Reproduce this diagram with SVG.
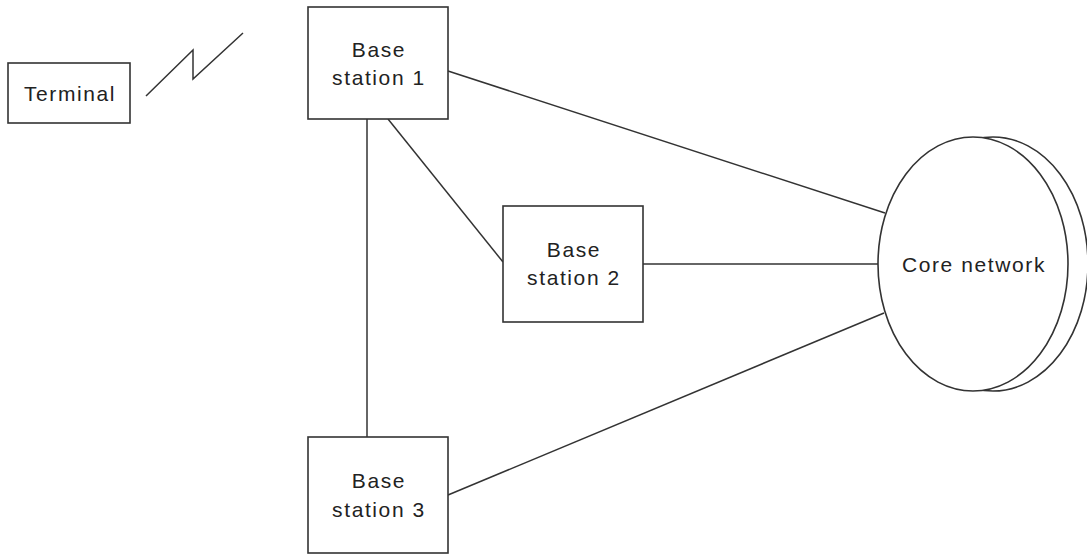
<svg xmlns="http://www.w3.org/2000/svg" width="1087" height="554" viewBox="0 0 1087 554">
<style>
.box{fill:#fff;stroke:#333;stroke-width:1.6}
.ln{fill:none;stroke:#333;stroke-width:1.5}
.t{font-family:"Liberation Sans",Arial,sans-serif;font-size:21px;fill:#222;text-anchor:middle;letter-spacing:1.6px}
</style>
<rect width="1087" height="554" fill="#fff"/>
<g id="connectors">
<polyline class="ln" points="146,96 193,50 193,79 243,33"/>
<line class="ln" x1="448" y1="71" x2="885" y2="213"/>
<line class="ln" x1="388" y1="119" x2="503" y2="262"/>
<line class="ln" x1="367" y1="119" x2="367" y2="437"/>
<line class="ln" x1="643" y1="264" x2="878" y2="264"/>
<line class="ln" x1="448" y1="495" x2="884" y2="313"/>
</g>
<g id="terminal">
<rect class="box" x="8" y="63" width="122" height="60"/>
<text class="t" x="70" y="101">Terminal</text>
</g>
<g id="bs1">
<rect class="box" x="308" y="7" width="140" height="112"/>
<text class="t" x="379" y="57">Base</text>
<text class="t" x="379" y="85">station 1</text>
</g>
<g id="bs2">
<rect class="box" x="503" y="206" width="140" height="116"/>
<text class="t" x="574" y="257">Base</text>
<text class="t" x="574" y="285">station 2</text>
</g>
<g id="bs3">
<rect class="box" x="308" y="437" width="140" height="116"/>
<text class="t" x="379" y="488">Base</text>
<text class="t" x="379" y="517">station 3</text>
</g>
<g id="core">
<ellipse class="box" cx="993" cy="264" rx="95" ry="127"/>
<ellipse class="box" cx="973" cy="264" rx="95" ry="127"/>
<text class="t" x="974" y="272">Core network</text>
</g>
</svg>
